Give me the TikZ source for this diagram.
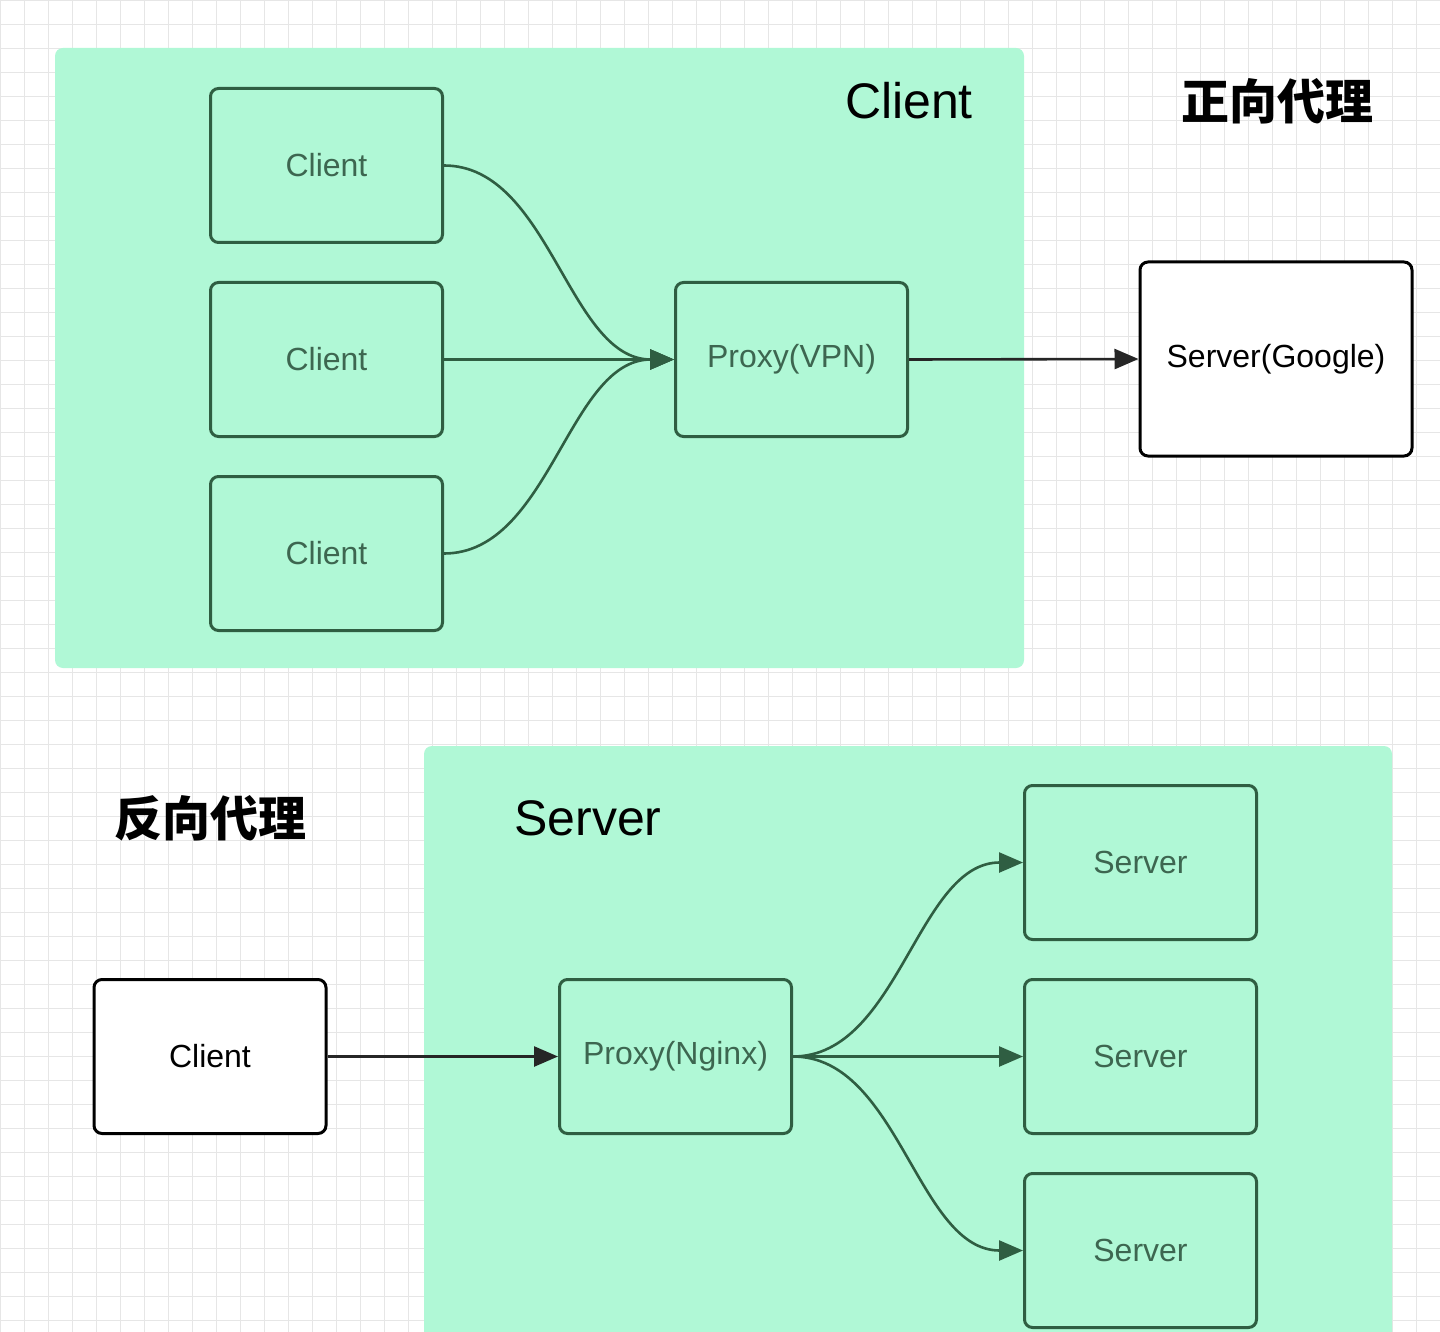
\documentclass[tikz,border=0pt]{standalone}
\usepackage{fontspec}
\setmainfont{Liberation Sans}
\newfontfamily\cjk{Noto Sans CJK SC}
\usetikzlibrary{arrows.meta}
\definecolor{regfill}{HTML}{B0F8D6}
\definecolor{edge}{HTML}{2F5E42}
\definecolor{txt}{HTML}{3D6650}
\definecolor{gridc}{HTML}{E6E6E6}
\tikzset{
 gbox/.style={draw=edge,line width=1.5pt,rounded corners=4pt,fill=regfill,text=txt,font=\fontsize{16}{18}\selectfont},
 wbox/.style={draw=black,line width=1.5pt,rounded corners=4pt,fill=white,text=black,font=\fontsize{16}{18}\selectfont},
 conn/.style={draw=edge,line width=1.3pt,-{Triangle[length=12pt,width=10pt]}},
 big/.style={font=\fontsize{25}{28}\selectfont},
 cjkl/.style={font=\cjk\bfseries\fontsize{24}{28}\selectfont}
}
\begin{document}
\begin{tikzpicture}[x=0.5pt,y=-0.5pt]
\useasboundingbox (0,0) rectangle (1440,1332);
\fill[white] (0,0) rectangle (1440,1332);
\foreach \i in {0,24,...,1440} \draw[gridc,line width=0.4pt] (\i,0) -- (\i,1332);
\foreach \i in {0,24,...,1332} \draw[gridc,line width=0.4pt] (0,\i) -- (1440,\i);
\fill[regfill,rounded corners=4pt] (55,48) rectangle (1024,668);
\fill[regfill,rounded corners=4pt] (424,746) rectangle (1392,1340);
\node[big] (lc) at (909,101) {Client};
\node[cjkl] (lf) at (1277,101) {正向代理};
\node[cjkl] (lr) at (210,818) {反向代理};
\node[big] (ls) at (588,818) {Server};
\node[gbox,minimum width=116pt,minimum height=77pt] (c1) at (326.5,165.5) {Client};
\node[gbox,minimum width=116pt,minimum height=77pt] (c2) at (326.5,359.5) {Client};
\node[gbox,minimum width=116pt,minimum height=77pt] (c3) at (326.5,553.5) {Client};
\node[gbox,minimum width=116pt,minimum height=77pt] (pv) at (791.5,359.5) {Proxy(VPN)};
\node[wbox,minimum width=136pt,minimum height=97pt] (sg) at (1276,359) {Server(Google)};
\node[wbox,minimum width=116pt,minimum height=77pt] (cl) at (210,1056.5) {Client};
\node[gbox,minimum width=116pt,minimum height=77pt] (pn) at (675.5,1056.5) {Proxy(Nginx)};
\node[gbox,minimum width=116pt,minimum height=77pt] (s1) at (1140.5,862.5) {Server};
\node[gbox,minimum width=116pt,minimum height=77pt] (s2) at (1140.5,1056.5) {Server};
\node[gbox,minimum width=116pt,minimum height=77pt] (s3) at (1140.5,1250.5) {Server};
\draw[conn] (c1.east) to[out=0,in=180,looseness=0.9] (pv.west);
\draw[conn] (c2.east) -- (pv.west);
\draw[conn] (c3.east) to[out=0,in=180,looseness=0.9] (pv.west);
\draw[conn,draw=black!85] (pv.east) -- (sg.west);
\draw[conn,draw=black!85] (cl.east) -- (pn.west);
\draw[conn] (pn.east) to[out=0,in=180,looseness=0.9] (s1.west);
\draw[conn] (pn.east) -- (s2.west);
\draw[conn] (pn.east) to[out=0,in=180,looseness=0.9] (s3.west);
\end{tikzpicture}
\end{document}
